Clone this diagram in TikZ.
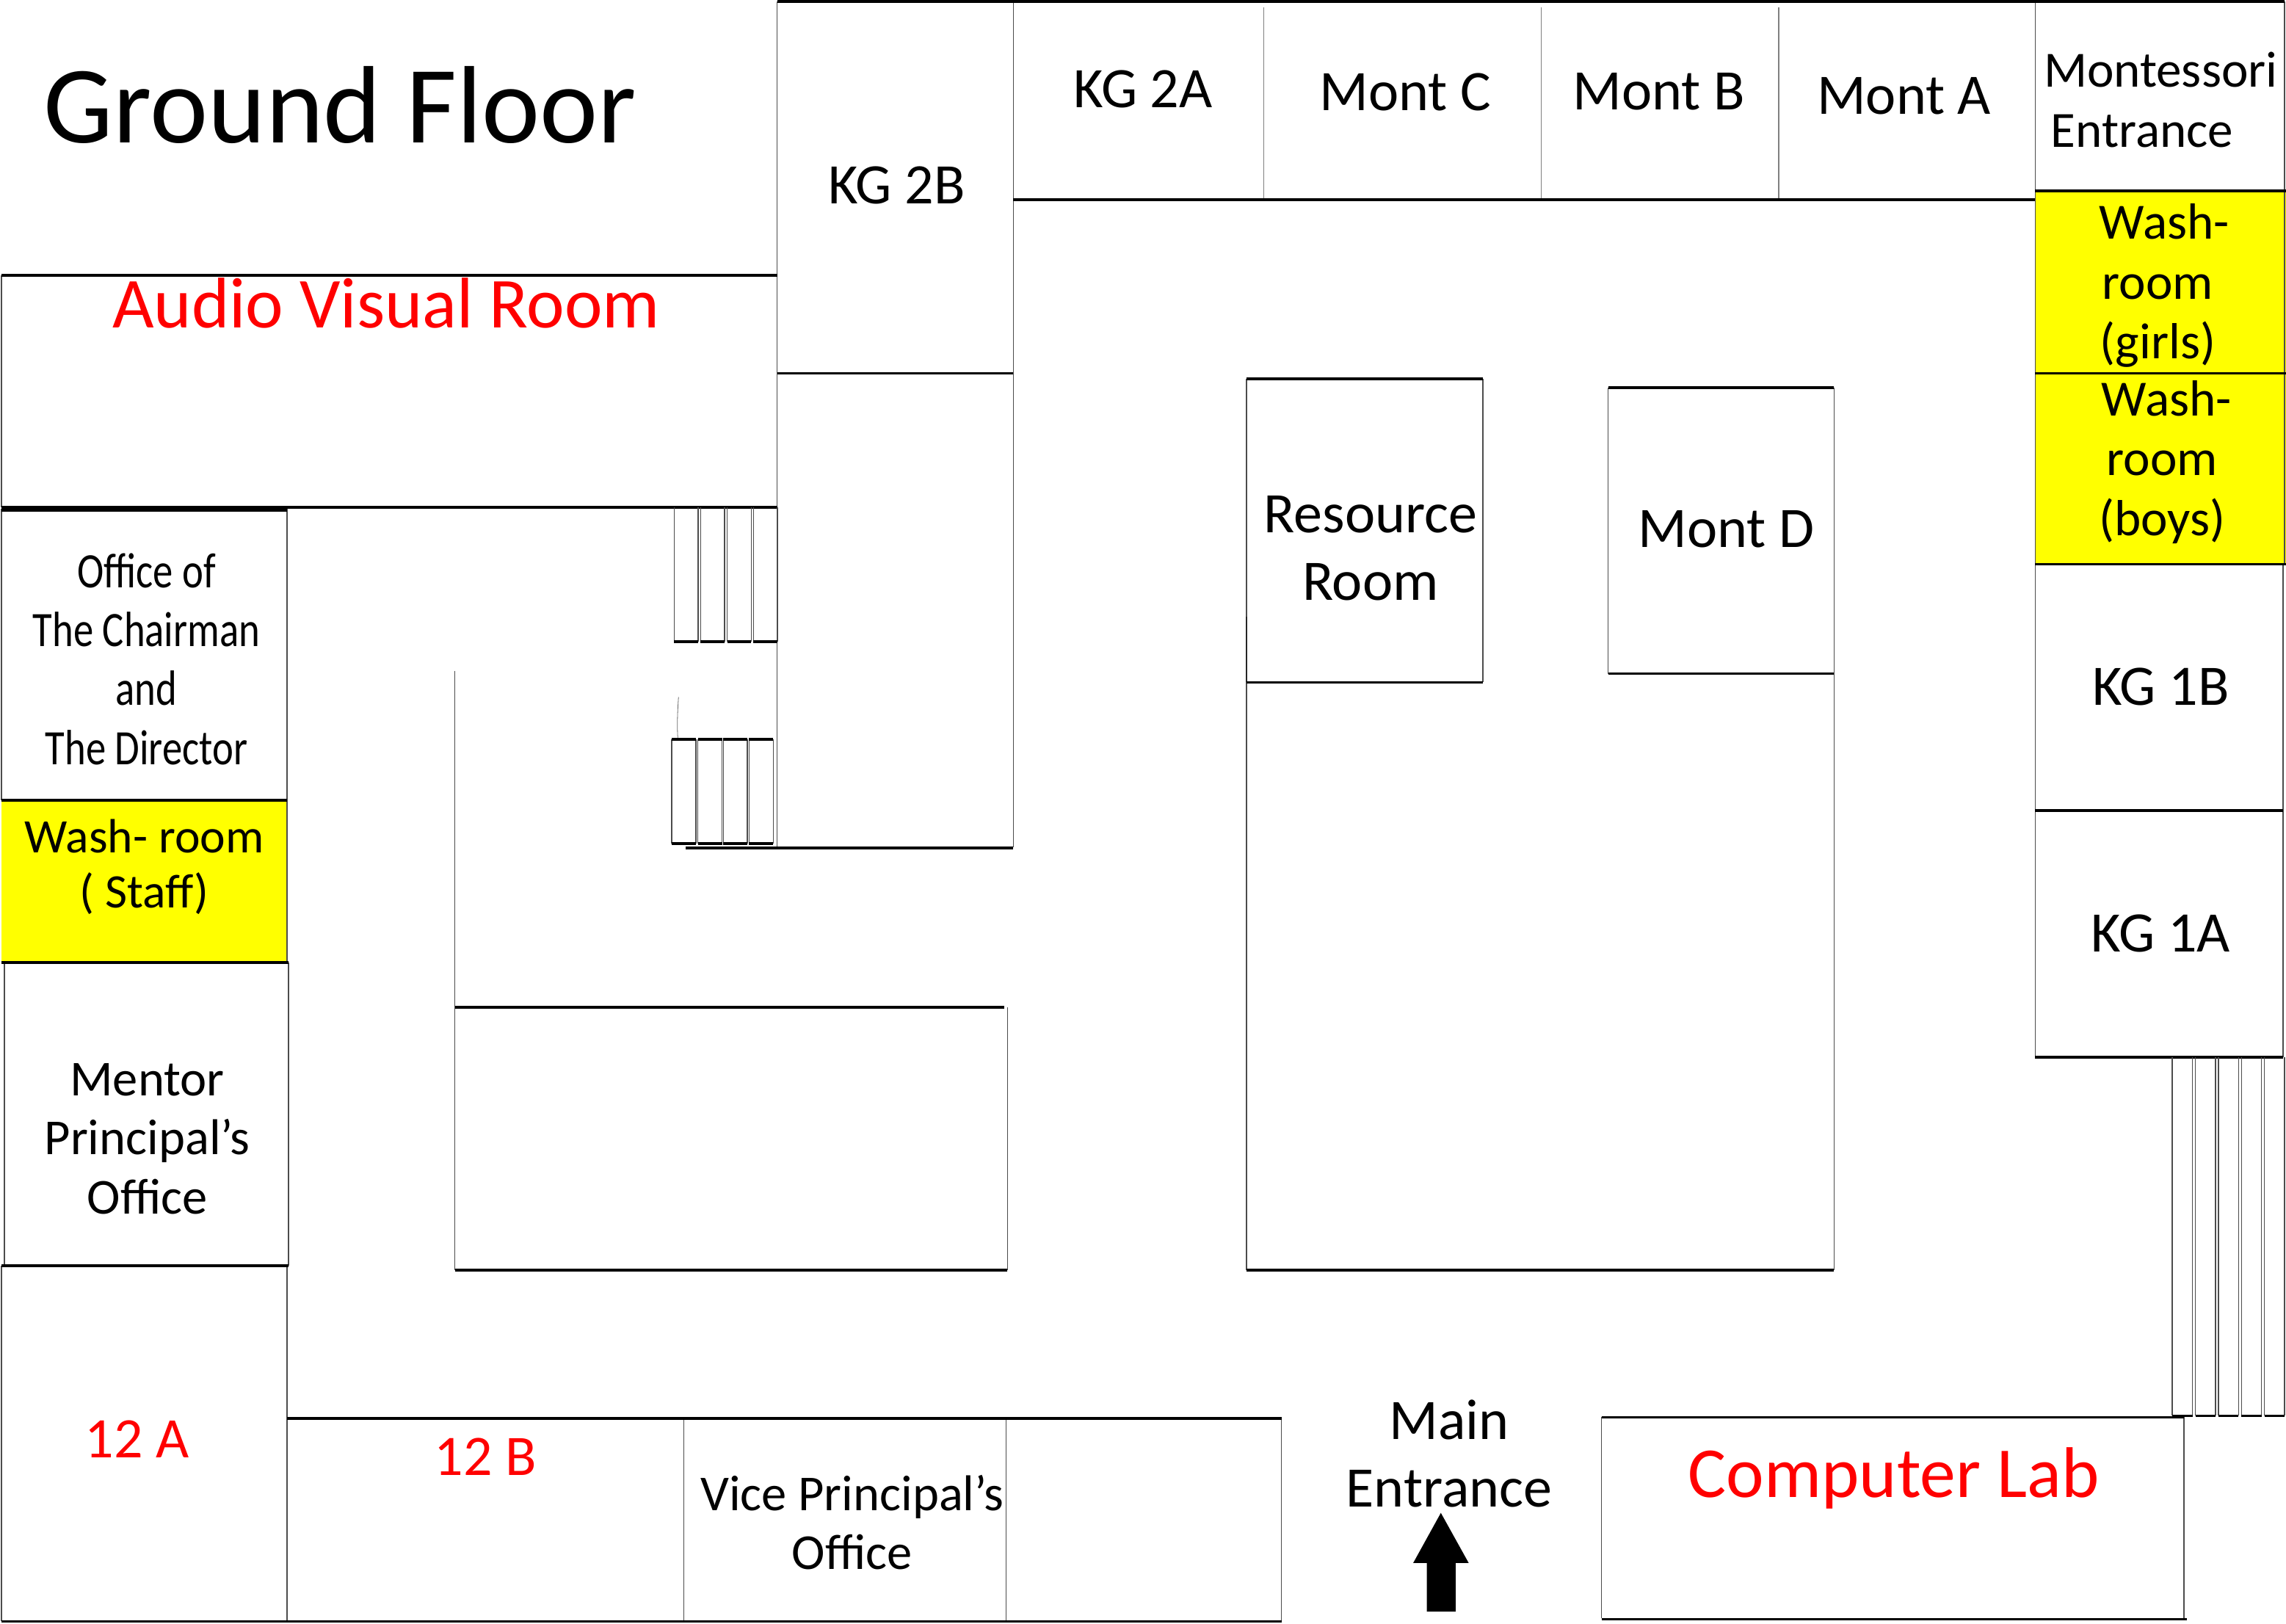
\documentclass[tikz,border=0pt]{standalone}
\usepackage{fontspec}
\setmainfont{Carlito}
\newfontfamily\narrowfont[FakeStretch=0.81]{Carlito}
\usepackage{xcolor}
\usepackage{tikz}
\definecolor{washyellow}{RGB}{255,255,0}
\definecolor{hotred}{RGB}{255,0,0}
\tikzset{
  wall/.style={draw=black, line width=1.9pt},
  side/.style={draw=black!70, line width=0.75pt},
  hair/.style={draw=black!50, line width=0.6pt},
  washroom/.style={fill=washyellow, draw=none},
  label/.style={inner sep=0pt, align=center, font=\fontsize{39.3}{46}\selectfont},
  smalllabel/.style={inner sep=0pt, align=center, font=\fontsize{34.8}{41}\selectfont},
  hotlabel/.style={label, text=hotred},
}
\begin{document}
\begin{tikzpicture}[x=1pt, y=-1pt]
    \useasboundingbox (0,0) rectangle (1568,1113.8);
    \fill[white] (0,0) rectangle (1568,1113.8);
    \fill[washroom] (1396,131) rectangle (1568,387);
    \fill[washroom] (1,549) rectangle (197,660);

    \draw[side] (533,1) -- (533,348);
    \draw[side] (533,348) -- (533,581);
    \draw[side] (695,1) -- (695,581);
    \draw[hair] (867,5) -- (867,137);
    \draw[hair] (1057,5) -- (1057,137);
    \draw[hair] (1220,5) -- (1220,137);
    \draw[side] (1396,1) -- (1396,725);
    \draw[side] (1567,1) -- (1567,387);
    \draw[side] (1566,387) -- (1566,725);
    \draw[side] (1,189) -- (1,348);
    \draw[side] (1,349) -- (1,549);
    \draw[side] (197,349) -- (197,660);
    \draw[side] (3,660) -- (3,868);
    \draw[side] (198,660) -- (198,868);
    \draw[side] (1,868) -- (1,1112);
    \draw[side] (197,868) -- (197,1112);
    \draw[side] (469,973) -- (469,1112);
    \draw[side] (690,973) -- (690,1112);
    \draw[side] (879,973) -- (879,1112);
    \draw[side] (1098.5,972) -- (1098.5,1110);
    \draw[side] (1498,972) -- (1498,1110);
    \draw[side] (312,460) -- (312,871);
    \draw[side] (691,691) -- (691,871);
    \draw[side] (855,260) -- (855,871);
    \draw[draw=black!85, line width=0.9pt] (855,423) -- (855,468);
    \draw[side] (1017,260) -- (1017,468);
    \draw[side] (1103,266) -- (1103,462);
    \draw[side] (1258,266) -- (1258,871);

    \draw[wall] (533,1) -- (1567,1);
    \draw[wall] (695,137) -- (1396,137);
    \draw[wall] (533,256) -- (695,256);
    \draw[wall] (1396,131) -- (1568,131);
    \draw[wall] (1396,256) -- (1568,256);
    \draw[wall] (1396,387) -- (1568,387);
    \draw[wall] (1396,556) -- (1566,556);
    \draw[wall] (1396,725) -- (1566,725);
    \draw[wall] (1,189) -- (533,189);
    \draw[wall] (1,348) -- (533,348);
    \draw[wall] (1,350) -- (197,350);
    \draw[wall] (1,549) -- (197,549);
    \draw[wall] (1,660) -- (198,660);
    \draw[wall] (1,868) -- (198,868);
    \draw[wall] (197,973) -- (879,973);
    \draw[wall] (1,1112) -- (879,1112);
    \draw[wall] (1098.5,972) -- (1498,972);
    \draw[wall] (1098.5,1110.5) -- (1500,1110.5);
    \draw[wall] (470.5,581.4) -- (695,581.4);
    \draw[wall] (312,691) -- (689,691);
    \draw[wall] (312,871) -- (691,871);
    \draw[wall] (855,260) -- (1017,260);
    \draw[wall] (855,468) -- (1017,468);
    \draw[wall] (1103,266) -- (1258,266);
    \draw[wall] (1103,462) -- (1258,462);
    \draw[wall] (855,871) -- (1258,871);

    \foreach \x in {462.4,480.6,498.8,516.8} {
      \draw[side] (\x,348) -- (\x,440);
      \draw[side] (\x+16.5,348) -- (\x+16.5,440);
      \draw[wall] (\x,440) -- (\x+16.5,440);
    }
    \foreach \x in {460.7,478.7,496.1,513.8} {
      \draw[side] (\x,507) -- (\x,578.4);
      \draw[side] (\x+16.6,507) -- (\x+16.6,578.4);
      \draw[wall] (\x,507) -- (\x+16.6,507);
      \draw[wall] (\x,578.4) -- (\x+16.6,578.4);
    }
    \draw[black!60, line width=0.4pt] (465.4,478) .. controls (464.6,490) and (464.4,498) .. (464.9,506);
    \foreach \x in {1490,1505.9,1521.6,1537.4,1553.2} {
      \draw[side] (\x,725) -- (\x,971);
      \draw[side] (\x+13.8,725) -- (\x+13.8,971);
      \draw[wall] (\x,971) -- (\x+13.8,971);
    }

    \fill[black] (978.7,1105.3) -- (978.7,1072) -- (969.3,1072) -- (988.3,1037.6)
      -- (1007.4,1072) -- (998.4,1072) -- (998.4,1105.3) -- cycle;

    \node[inner sep=0pt, font=\fontsize{75.5}{90}\selectfont] (title) at (233.5,72) {Ground Floor};
    \node[hotlabel, font=\fontsize{49.2}{56}\selectfont] (audio) at (265,208) {Audio Visual Room};
    \node[label] (kgtwob) at (615,127) {KG 2B};
    \node[label] (kgtwoa) at (784,61) {KG 2A};
    \node[label] (montc) at (964,63) {Mont C};
    \node[label] (montb) at (1138,63) {Mont B};
    \node[label] (monta) at (1306,66) {Mont A};
    \node[smalllabel, align=left] (entrance) at (1482,68.5) {Montessori\\\hspace{5pt}Entrance};
    \node[smalllabel] (girls) at (1480,196) {\hspace{9pt}Wash-\\room\\(girls)};
    \node[smalllabel] (boys) at (1483,317) {\hspace{6pt}Wash-\\room\\(boys)};
    \node[label] (resource) at (940,376) {Resource\\Room};
    \node[label] (montd) at (1184,363) {Mont D};
    \node[label] (kgoneb) at (1482,471) {KG 1B};
    \node[label] (kgonea) at (1482,640) {KG 1A};
    \node[inner sep=0pt, align=center, font=\narrowfont\fontsize{34}{40.5}\selectfont] (office) at (100.5,452) {Office of\\The Chairman\\and\\The Director};
    \node[inner sep=0pt, align=center, font=\fontsize{33}{38}\selectfont] (staff) at (99,594.5) {Wash- room\\( Staff)};
    \node[smalllabel, font=\fontsize{34.5}{40.5}\selectfont] (mentor) at (101,781) {Mentor\\Principal’s\\Office};
    \node[hotlabel] (twelvea) at (94,987) {12 A};
    \node[hotlabel] (twelveb) at (333,999) {12 B};
    \node[smalllabel, font=\fontsize{34.5}{40}\selectfont] (vice) at (584.5,1044) {Vice Principal’s\\Office};
    \node[label] (mainentrance) at (994,997) {Main\\Entrance};
    \node[hotlabel, font=\fontsize{49.2}{58}\selectfont] (lab) at (1299,1014) {Computer Lab};
\end{tikzpicture}
\end{document}
